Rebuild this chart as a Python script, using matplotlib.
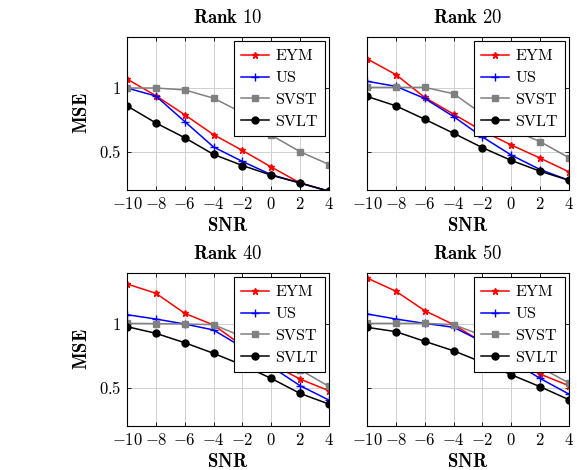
import matplotlib
matplotlib.use("Agg")
import matplotlib.pyplot as plt
from matplotlib.ticker import FuncFormatter

plt.rcParams['mathtext.fontset'] = 'cm'
plt.rcParams['font.family'] = ['DejaVu Serif']

snr = [-10, -8, -6, -4, -2, 0, 2, 4]
series_names = ["EYM", "US", "SVST", "SVLT"]
titles = ["Rank 10", "Rank 20", "Rank 40", "Rank 50"]

# Rank 10
r10_eym = [1.07, 0.94, 0.79, 0.634, 0.51, 0.38, 0.255, 0.19]
r10_us = [1.00, 0.937, 0.737, 0.537, 0.424, 0.32, 0.255, 0.19]
r10_svst = [1.00, 1.00, 0.985, 0.92, 0.805, 0.63, 0.50, 0.40]
r10_svlt = [0.86, 0.726, 0.61, 0.479, 0.392, 0.316, 0.255, 0.19]
# Rank 20
r20_eym = [1.229, 1.105, 0.926, 0.795, 0.663, 0.553, 0.45, 0.342]
r20_us = [1.053, 1.013, 0.918, 0.776, 0.616, 0.474, 0.36, 0.276]
r20_svst = [1.005, 1.005, 1.005, 0.955, 0.795, 0.676, 0.579, 0.453]
r20_svlt = [0.934, 0.86, 0.755, 0.645, 0.532, 0.432, 0.347, 0.276]
# Rank 40
r40_eym = [1.314, 1.241, 1.084, 0.992, 0.83, 0.686, 0.568, 0.476]
r40_us = [1.073, 1.039, 1.0, 0.953, 0.817, 0.665, 0.516, 0.403]
r40_svst = [1.005, 1.003, 1.0, 0.995, 0.90, 0.74, 0.641, 0.51]
r40_svlt = [0.979, 0.927, 0.853, 0.77, 0.678, 0.573, 0.455, 0.372]
# Rank 50
r50_eym = [1.361, 1.257, 1.105, 0.995, 0.856, 0.725, 0.607, 0.516]
r50_us = [1.079, 1.039, 1.005, 0.974, 0.861, 0.712, 0.573, 0.45]
r50_svst = [1.005, 1.005, 1.005, 0.995, 0.91, 0.764, 0.66, 0.537]
r50_svlt = [0.974, 0.94, 0.864, 0.79, 0.699, 0.602, 0.508, 0.406]

data = [
    [r10_eym, r10_us, r10_svst, r10_svlt],
    [r20_eym, r20_us, r20_svst, r20_svlt],
    [r40_eym, r40_us, r40_svst, r40_svlt],
    [r50_eym, r50_us, r50_svst, r50_svlt],
]

styles = [
    dict(color='red', marker='*', markersize=4.5),
    dict(color='blue', marker='+', markersize=5.5, markeredgewidth=1.0),
    dict(color=(0.5, 0.5, 0.5), marker='s', markersize=4.5),
    dict(color='black', marker='o', markersize=5),
]

W, H = 577, 470
fig = plt.figure(figsize=(W / 100, H / 100), dpi=100)

lefts = [127, 367]
tops = [37, 273]
aw, ah = 202, 153

fmt = FuncFormatter(lambda v, p: r'$%g$' % v)

for i in range(4):
    r, c = divmod(i, 2)
    ax = fig.add_axes([lefts[c] / W, 1 - (tops[r] + ah) / H, aw / W, ah / H])
    for name, vals, st in zip(series_names, data[i], styles):
        ax.plot(snr, vals, linewidth=1.1, label=r'$\mathrm{%s}$' % name, **st)
    ax.set_xlim(-10, 4)
    ax.set_ylim(0.2, 1.4)
    ax.set_xticks(snr)
    ax.set_yticks([0.5, 1])
    ax.xaxis.set_major_formatter(fmt)
    ax.yaxis.set_major_formatter(fmt)
    ax.grid(True, color='#d0d0d0', linewidth=0.7)
    ax.set_axisbelow(True)
    ax.tick_params(direction='in', length=3, top=True, right=True, labelsize=12, pad=4, width=0.6)
    for s in ax.spines.values():
        s.set_linewidth(0.8)
    ax.set_title(r'$\mathbf{%s}$' % titles[i].replace(' ', r'\ '), fontsize=13.5, pad=10)
    ax.set_xlabel(r'$\mathbf{SNR}$', fontsize=13.5, labelpad=3.5)
    if c == 0:
        ax.set_ylabel(r'$\mathbf{MSE}$', fontsize=13.5, labelpad=6)
    else:
        ax.tick_params(labelleft=False)
    leg = ax.legend(loc='upper right', fontsize=11.5, frameon=True, fancybox=False,
                    edgecolor='black', framealpha=1, borderaxespad=0.25,
                    labelspacing=0.3, handlelength=1.8, handletextpad=0.35,
                    borderpad=0.4)
    leg.get_frame().set_linewidth(0.8)

fig.savefig('out.png', dpi=100)
